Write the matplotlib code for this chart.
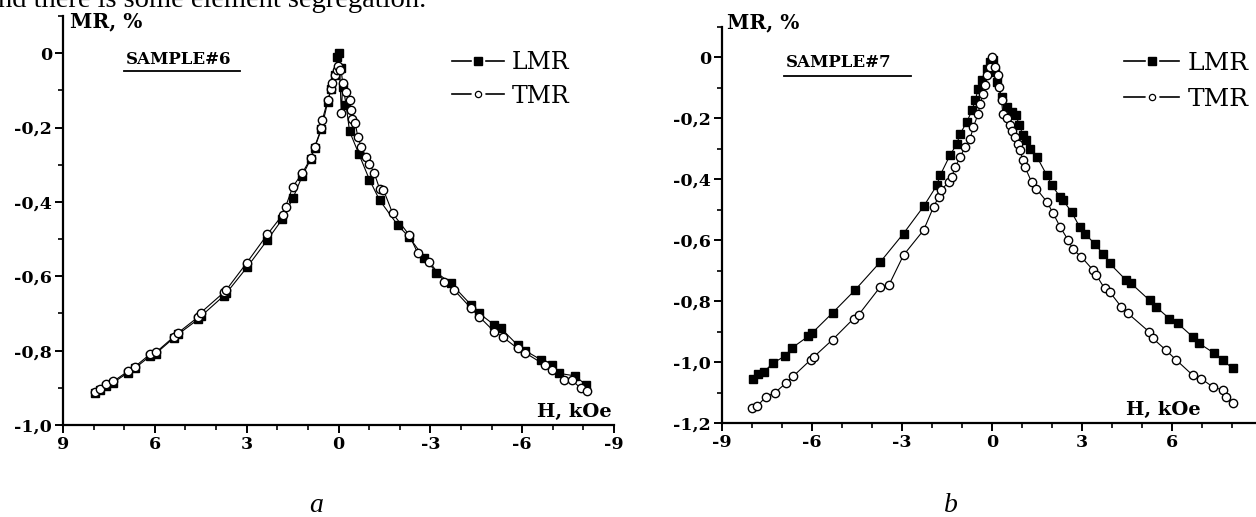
import matplotlib
matplotlib.use("Agg")
import matplotlib.pyplot as plt
from matplotlib.lines import Line2D
from matplotlib.legend_handler import HandlerTuple
from matplotlib.ticker import MultipleLocator, FuncFormatter

# ---------------- data ----------------
# Panel a: SAMPLE#6
Ha_lmr = [7.96, 7.80, 7.60, 7.36, 6.89, 6.65, 6.16, 5.97, 5.37, 5.24, 4.59, 4.50,
          3.74, 3.66, 2.99, 2.32, 1.84, 1.49, 1.18, 0.91, 0.78, 0.56, 0.35, 0.24,
          0.13, 0.04, 0.00, -0.08, -0.15, -0.25, -0.36, -0.66, -1.01, -1.34, -1.93,
          -2.31, -2.80, -3.20, -3.67, -4.33, -4.60, -5.09, -5.31, -5.85, -6.10,
          -6.62, -6.97, -7.20, -7.73, -8.08]
MRa_lmr = [-0.913, -0.905, -0.894, -0.886, -0.860, -0.847, -0.815, -0.808, -0.765,
           -0.756, -0.716, -0.708, -0.652, -0.645, -0.576, -0.502, -0.447, -0.39,
           -0.33, -0.285, -0.255, -0.205, -0.13, -0.097, -0.06, -0.01, 0.0, -0.04,
           -0.09, -0.14, -0.21, -0.27, -0.34, -0.395, -0.462, -0.495, -0.55, -0.59,
           -0.619, -0.677, -0.70, -0.731, -0.74, -0.785, -0.80, -0.825, -0.839,
           -0.861, -0.868, -0.892]
Ha_tmr = [7.96, 7.80, 7.60, 7.36, 6.89, 6.65, 6.16, 5.97, 5.37, 5.24, 4.59, 4.50,
          3.74, 3.66, 2.99, 2.32, 1.82, 1.73, 1.49, 1.18, 0.91, 0.78, 0.56, 0.53,
          0.35, 0.24, 0.20, 0.13, 0.06, 0.02, -0.04, -0.09, -0.14, -0.25, -0.36,
          -0.41, -0.45, -0.55, -0.63, -0.74, -0.90, -1.01, -1.17, -1.34, -1.47,
          -1.77, -2.31, -2.59, -2.97, -3.46, -3.78, -4.33, -4.60, -5.09, -5.36,
          -5.85, -6.10, -6.75, -6.97, -7.37, -7.62, -7.91, -8.13]
MRa_tmr = [-0.910, -0.902, -0.890, -0.883, -0.856, -0.843, -0.810, -0.805, -0.762,
           -0.752, -0.710, -0.698, -0.643, -0.636, -0.563, -0.487, -0.434, -0.413,
           -0.359, -0.322, -0.283, -0.252, -0.202, -0.180, -0.126, -0.095, -0.080,
           -0.059, -0.045, -0.035, -0.045, -0.162, -0.081, -0.104, -0.126, -0.153,
           -0.176, -0.189, -0.225, -0.252, -0.279, -0.297, -0.323, -0.364, -0.368,
           -0.431, -0.489, -0.538, -0.561, -0.615, -0.637, -0.686, -0.709, -0.749,
           -0.763, -0.794, -0.806, -0.839, -0.852, -0.879, -0.879, -0.901, -0.908]

# Panel b: SAMPLE#7
Hb_lmr = [-7.96, -7.79, -7.60, -7.31, -6.90, -6.66, -6.12, -5.99, -5.31, -4.57,
          -3.72, -2.95, -2.28, -1.84, -1.73, -1.40, -1.17, -1.06, -0.84, -0.67,
          -0.56, -0.46, -0.34, -0.18, -0.07, 0.02, 0.10, 0.16, 0.32, 0.49, 0.65,
          0.80, 0.91, 1.04, 1.13, 1.26, 1.50, 1.83, 2.00, 2.27, 2.37, 2.65, 2.92,
          3.10, 3.42, 3.70, 3.92, 4.47, 4.64, 5.25, 5.47, 5.91, 6.19, 6.69, 6.91,
          7.41, 7.69, 8.02]
MRb_lmr = [-1.057, -1.039, -1.032, -1.004, -0.980, -0.953, -0.915, -0.904, -0.838,
           -0.764, -0.671, -0.578, -0.489, -0.420, -0.387, -0.321, -0.283, -0.250,
           -0.212, -0.174, -0.141, -0.103, -0.075, -0.037, -0.015, -0.008, -0.048,
           -0.081, -0.130, -0.163, -0.179, -0.190, -0.223, -0.256, -0.272, -0.300,
           -0.327, -0.387, -0.420, -0.458, -0.469, -0.507, -0.556, -0.578, -0.612,
           -0.644, -0.676, -0.731, -0.742, -0.797, -0.819, -0.857, -0.873, -0.917,
           -0.939, -0.971, -0.993, -1.021]
Hb_tmr = [-8.00, -7.82, -7.54, -7.23, -6.88, -6.62, -6.05, -5.94, -5.31, -4.61,
          -4.44, -3.74, -3.44, -2.95, -2.28, -1.95, -1.78, -1.70, -1.45, -1.34,
          -1.23, -1.06, -0.90, -0.73, -0.62, -0.46, -0.40, -0.29, -0.23, -0.18,
          -0.07, 0.00, 0.10, 0.21, 0.24, 0.32, 0.36, 0.49, 0.60, 0.68, 0.76, 0.87,
          0.93, 1.04, 1.10, 1.32, 1.48, 1.83, 2.04, 2.27, 2.54, 2.70, 2.98, 3.37,
          3.48, 3.75, 3.92, 4.31, 4.53, 5.23, 5.36, 5.80, 6.14, 6.69, 6.97, 7.35,
          7.69, 7.80, 8.02]
MRb_tmr = [-1.152, -1.144, -1.114, -1.100, -1.070, -1.046, -0.993, -0.983, -0.926,
           -0.857, -0.844, -0.755, -0.748, -0.649, -0.567, -0.491, -0.458, -0.436,
           -0.409, -0.392, -0.360, -0.327, -0.294, -0.267, -0.228, -0.185, -0.152,
           -0.119, -0.092, -0.059, -0.032, 0.000, -0.032, -0.059, -0.098, -0.141,
           -0.185, -0.200, -0.223, -0.240, -0.261, -0.283, -0.305, -0.338, -0.360,
           -0.409, -0.431, -0.474, -0.512, -0.556, -0.600, -0.630, -0.655, -0.698,
           -0.715, -0.758, -0.769, -0.819, -0.840, -0.900, -0.922, -0.961, -0.993,
           -1.043, -1.054, -1.081, -1.092, -1.114, -1.135]

series_labels = ["LMR", "TMR"]
sample_titles = ["SAMPLE#6", "SAMPLE#7"]
panel_letters = ["a", "b"]
y_label = "MR, %"
x_label = "H, kOe"

# ---------------- figure ----------------
W, H = 1256, 517
fig = plt.figure(figsize=(W / 100, H / 100), dpi=100)
fig.patch.set_facecolor("white")

TICK_FONT = dict(family="DejaVu Serif", weight="bold", size=12.5)


def px(x0, y0, x1, y1):
    """axes rectangle from pixel box (left, top, right, bottom)"""
    return [x0 / W, 1 - y1 / H, (x1 - x0) / W, (y1 - y0) / H]


def yfmt(v, pos):
    if abs(v) < 1e-9:
        return "0"
    return f"{v:.1f}".replace(".", ",")


def xfmt(v, pos):
    return f"{int(round(v))}"


def style_axes(ax):
    for s in ("top", "right"):
        ax.spines[s].set_visible(False)
    for s in ("left", "bottom"):
        ax.spines[s].set_linewidth(1.6)
    ax.xaxis.set_major_locator(MultipleLocator(3))
    ax.xaxis.set_minor_locator(MultipleLocator(1))
    ax.yaxis.set_major_locator(MultipleLocator(0.2))
    ax.yaxis.set_minor_locator(MultipleLocator(0.1))
    ax.yaxis.set_major_formatter(FuncFormatter(yfmt))
    ax.xaxis.set_major_formatter(FuncFormatter(xfmt))
    ax.tick_params(which="major", direction="out", length=6, width=1.4, pad=2)
    ax.tick_params(which="minor", direction="out", length=3.5, width=1.2)
    for lab in ax.get_xticklabels() + ax.get_yticklabels():
        lab.set_fontfamily(TICK_FONT["family"])
        lab.set_fontweight(TICK_FONT["weight"])
        lab.set_fontsize(TICK_FONT["size"])
    ax.patch.set_alpha(0)


def legend_handles():
    lmr = (Line2D([], [], color="k", lw=1.2, marker="s", ms=9, mfc="white", mec="white"),
           Line2D([], [], ls="none", marker="s", ms=5.5, mfc="k", mec="k"))
    tmr = (Line2D([], [], color="k", lw=1.2, marker="o", ms=9, mfc="white", mec="white"),
           Line2D([], [], ls="none", marker="o", ms=4.5, mfc="white", mec="k", mew=0.9))
    return [lmr, tmr]


def draw_panel(ax, hl, ml, ht, mt, xlim, ylim, title, title_xy, leg_xy, leg_size, lsp):
    ax.plot(hl, ml, color="k", lw=0.8, marker="s", ms=6, mfc="k", mec="k", zorder=3)
    ax.plot(ht, mt, color="k", lw=0.8, marker="o", ms=6, mfc="white", mec="k",
            mew=1.0, zorder=4)
    ax.set_xlim(*xlim)
    ax.set_ylim(*ylim)
    style_axes(ax)
    # sample title (underlined)
    ax.text(title_xy[0], title_xy[1], title, transform=fig.transFigure,
            family="DejaVu Serif", weight="bold", size=12,
            ha="left", va="center")
    # legend
    ax.legend(legend_handles(), series_labels, frameon=False,
              handler_map={tuple: HandlerTuple(ndivide=1, pad=0)},
              loc="upper left", bbox_to_anchor=leg_xy,
              bbox_transform=fig.transFigure,
              prop=dict(family="DejaVu Serif", size=leg_size),
              handlelength=2.2, handletextpad=0.35, labelspacing=lsp,
              borderpad=0, borderaxespad=0)


# panel a
axa = fig.add_axes(px(63, 16, 614, 425))
draw_panel(axa, Ha_lmr, MRa_lmr, Ha_tmr, MRa_tmr, (9, -9), (-1.0, 0.1),
           sample_titles[0], (126 / W, 1 - 59 / H), (452 / W, 1 - 51 / H), 17, 0.45)
fig.add_artist(Line2D([124 / W, 240 / W], [1 - 71 / H, 1 - 71 / H], color="k", lw=1.3))
fig.text(70 / W, 1 - 21 / H, y_label, family="DejaVu Serif", weight="bold",
         size=14.5, ha="left", va="center")
fig.text(612 / W, 1 - 412 / H, x_label, family="DejaVu Serif", weight="bold",
         size=14, ha="right", va="center")

# panel b
axb = fig.add_axes(px(722, 27, 1256, 423))
draw_panel(axb, Hb_lmr, MRb_lmr, Hb_tmr, MRb_tmr, (-9, 8.8), (-1.2, 0.1),
           sample_titles[1], (786 / W, 1 - 63 / H), (1124 / W, 1 - 52 / H), 18, 0.5)
fig.add_artist(Line2D([784 / W, 911 / W], [1 - 76 / H, 1 - 76 / H], color="k", lw=1.3))
fig.text(727 / W, 1 - 22 / H, y_label, family="DejaVu Serif", weight="bold",
         size=14.5, ha="left", va="center")
fig.text(1201 / W, 1 - 410 / H, x_label, family="DejaVu Serif", weight="bold",
         size=14, ha="right", va="center")

# panel letters
fig.text(316 / W, 1 - 512 / H, panel_letters[0], family="Liberation Serif",
         style="italic", size=20, ha="center", va="baseline")
fig.text(951 / W, 1 - 512 / H, panel_letters[1], family="Liberation Serif",
         style="italic", size=20, ha="center", va="baseline")

# clipped text line from surrounding document
fig.text(-2 / W, 1 - 7 / H, "nd there is some element segregation.",
         family="Liberation Serif", size=20.5, ha="left", va="baseline")

fig.savefig("out.png", dpi=100, facecolor="white")
